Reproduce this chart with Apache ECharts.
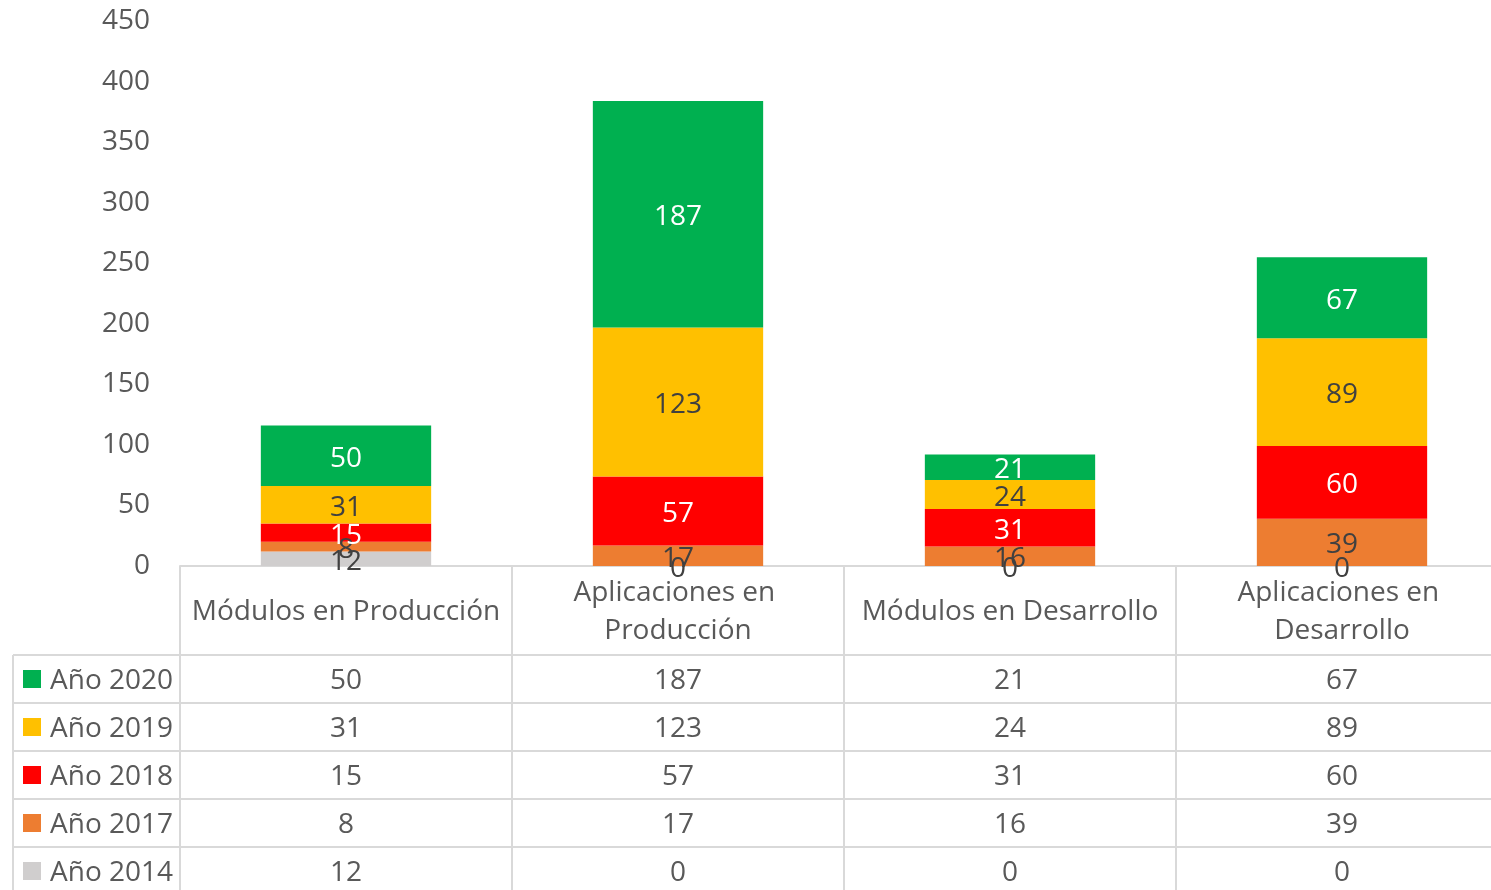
<!DOCTYPE html>
<html>
<head>
<meta charset="utf-8">
<script src="https://cdn.jsdelivr.net/npm/echarts@6/dist/echarts.min.js"></script>
<style>
html,body{margin:0;padding:0;background:#fff;overflow:hidden;width:1491px;height:890px;}
#c{width:1520px;height:890px;}
</style>
</head>
<body>
<div id="c"></div>
<script>
const categories = ['Módulos en Producción', 'Aplicaciones en Producción', 'Módulos en Desarrollo', 'Aplicaciones en Desarrollo'];
const seriesNames = ['Año 2014', 'Año 2017', 'Año 2018', 'Año 2019', 'Año 2020'];
const y2014 = [12, 0, 0, 0];
const y2017 = [8, 17, 16, 39];
const y2018 = [15, 57, 31, 60];
const y2019 = [31, 123, 24, 89];
const y2020 = [50, 187, 21, 67];
const yTicks = [0, 50, 100, 150, 200, 250, 300, 350, 400, 450];

const seriesValues = [y2014, y2017, y2018, y2019, y2020];
const colors = ['#d0cece', '#ed7d31', '#ff0000', '#ffc000', '#00b050'];
const labelColors = ['#404040', '#404040', '#ffffff', '#404040', '#ffffff'];
const FONT = '"Open Sans", sans-serif';
const FS = 28;
const TXT = '#595959';
const LINE = '#d9d9d9';

const chart = echarts.init(document.getElementById('c'), null, {renderer: 'canvas'});

const series = seriesNames.map((name, i) => ({
  name: name,
  type: 'bar',
  stack: 'total',
  data: seriesValues[i],
  barWidth: '51.3%',
  itemStyle: {color: colors[i]},
  label: {
    show: true,
    position: 'inside',
    offset: [0, 3],
    color: labelColors[i],
    fontFamily: FONT,
    fontSize: FS
  },
  emphasis: {disabled: true}
}));

chart.setOption({
  animation: false,
  backgroundColor: '#ffffff',
  textStyle: {fontFamily: FONT},
  grid: {left: 180, top: 21, bottom: 324, width: 1328, containLabel: false},
  xAxis: {
    type: 'category',
    data: categories,
    axisLine: {show: true, lineStyle: {color: LINE, width: 2}},
    axisTick: {show: true, length: 330, lineStyle: {color: LINE, width: 2}},
    axisLabel: {
      color: TXT, fontFamily: FONT, fontSize: FS,
      width: 340, overflow: 'break', lineHeight: 38,
      verticalAlign: 'middle', margin: 46, interval: 0
    }
  },
  yAxis: {
    type: 'value',
    min: 0, max: 450, interval: 50,
    axisLine: {show: false},
    axisTick: {show: false},
    splitLine: {show: false},
    axisLabel: {
      color: TXT, fontFamily: FONT, fontSize: FS, margin: 30,
      customValues: yTicks
    }
  },
  series: series
});

// Data table below the chart
const rowH = 48;
const tableTop = 655;
const leftEdge = 13;
const graphics = [];
for (let r = 0; r <= seriesNames.length; r++) {
  const y = tableTop + r * rowH;
  graphics.push({type: 'line', shape: {x1: leftEdge, y1: y, x2: 1520, y2: y}, style: {stroke: LINE, lineWidth: 2}, silent: true});
}
graphics.push({type: 'line', shape: {x1: leftEdge, y1: tableTop, x2: leftEdge, y2: 890}, style: {stroke: LINE, lineWidth: 2}, silent: true});

const rowOrder = [4, 3, 2, 1, 0]; // 2020 first
rowOrder.forEach((si, r) => {
  const cy = tableTop + r * rowH + rowH / 2;
  graphics.push({type: 'rect', shape: {x: 23, y: cy - 9, width: 18, height: 18}, style: {fill: colors[si]}, silent: true});
  graphics.push({type: 'text', x: 50, y: cy + 2, style: {text: seriesNames[si], fill: TXT, font: FS + 'px ' + FONT, textAlign: 'left', textVerticalAlign: 'middle'}, silent: true});
  categories.forEach((cat, ci) => {
    const cx = chart.convertToPixel({xAxisIndex: 0}, ci);
    graphics.push({type: 'text', x: cx, y: cy + 2, style: {text: String(seriesValues[si][ci]), fill: TXT, font: FS + 'px ' + FONT, textAlign: 'center', textVerticalAlign: 'middle'}, silent: true});
  });
});

chart.setOption({graphic: graphics});
</script>
</body>
</html>
